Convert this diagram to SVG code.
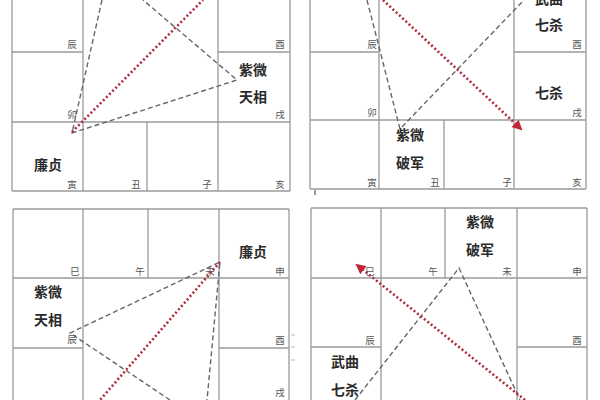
<svg xmlns="http://www.w3.org/2000/svg" width="600" height="400" viewBox="0 0 600 400">
<defs>
<style>
.g{stroke:#9a9a9a;stroke-width:1.3;fill:none}
.b{font-family:"Noto Sans CJK SC","Noto Sans CJK JP",sans-serif;font-size:9.5px;fill:#555;text-anchor:middle}
.s{font-family:"Noto Sans CJK SC","Noto Sans CJK JP",sans-serif;font-size:14px;font-weight:bold;fill:#2a2a2a;text-anchor:middle}
.d{stroke:#666;stroke-width:1.4;stroke-dasharray:5 3;fill:none}
.r{stroke:#b02c3c;stroke-width:2.6;stroke-dasharray:2 2.4;fill:none}
</style>
<marker id="ah" viewBox="0 0 10 10" refX="8" refY="5" markerWidth="4" markerHeight="4" orient="auto" markerUnits="strokeWidth">
<path d="M0,0 L10,5 L0,10 z" fill="#c0283a"/>
</marker>
</defs>
<rect width="600" height="400" fill="#fff"/>

<g id="panel1">
<path class="g" d="M12,0V191M83,0V191M218,0V191M290,0V191M147,122V191M12,52H83M218,52H290M12,122H290M12,191H290"/>
<text class="b" x="72" y="48">辰</text><text class="b" x="280" y="48">酉</text>
<text class="b" x="72" y="118">卯</text><text class="b" x="280" y="118">戌</text>
<text class="b" x="72" y="188">寅</text><text class="b" x="136" y="188">丑</text><text class="b" x="207" y="188">子</text><text class="b" x="280" y="188">亥</text>
<text class="s" x="253" y="75">紫微</text><text class="s" x="253" y="102">天相</text>
<text class="s" x="48" y="170">廉贞</text>
</g>

<g id="panel2">
<path class="g" d="M310,0V189M379,0V189M514,0V189M586,0V189M444,120V189M310,52H379M514,52H586M310,120H586M310,189H586"/>
<path d="M315,190V195" stroke="#555" stroke-width="1.2"/>
<text class="b" x="372" y="48">辰</text><text class="b" x="577" y="48">酉</text>
<text class="b" x="372" y="116">卯</text><text class="b" x="577" y="116">戌</text>
<text class="b" x="372" y="186">寅</text><text class="b" x="435" y="186">丑</text><text class="b" x="507" y="186">子</text><text class="b" x="577" y="186">亥</text>
<text class="s" x="549" y="4">武曲</text><text class="s" x="549" y="30">七杀</text>
<text class="s" x="549" y="98">七杀</text>
<text class="s" x="410" y="140">紫微</text><text class="s" x="410" y="168">破军</text>
</g>

<g id="panel3">
<path class="g" d="M13,209V400M83,209V400M219,209V400M289,209V400M148,209V278M13,209H289M13,278H289M13,348H83M219,348H289"/>
<path d="M291,335H295M291,347H295M291,360H295" stroke="#bbb" stroke-width="1"/>
<text class="b" x="75" y="275">巳</text><text class="b" x="140" y="275">午</text><text class="b" x="210" y="275">未</text><text class="b" x="280" y="275">申</text>
<text class="b" x="72" y="343">辰</text><text class="b" x="280" y="344">酉</text>
<text class="b" x="280" y="396">戌</text>
<text class="s" x="253" y="257">廉贞</text>
<text class="s" x="48" y="297">紫微</text><text class="s" x="48" y="325">天相</text>
</g>

<g id="panel4">
<path class="g" d="M311,208V400M381,208V400M517,208V400M587,208V400M445,208V278M311,208H587M311,278H587M311,347H381M517,347H587"/>
<text class="b" x="370" y="275">巳</text><text class="b" x="433" y="275">午</text><text class="b" x="507" y="275">未</text><text class="b" x="577" y="275">申</text>
<text class="b" x="370" y="344">辰</text><text class="b" x="577" y="344">酉</text>
<text class="s" x="480" y="227">紫微</text><text class="s" x="480" y="255">破军</text>
<text class="s" x="345" y="367">武曲</text><text class="s" x="345" y="395">七杀</text>
</g>

<g id="connectors">
<polyline class="d" points="102,0 72,133 237,80 143,0"/>
<line class="r" x1="72" y1="132" x2="203" y2="0"/>
<polyline class="d" points="367,0 400,129 524,0"/>
<line class="r" x1="383" y1="0" x2="521" y2="129" marker-end="url(#ah)"/>
<polyline class="d" points="170,400 70,333 220,262 207,400"/>
<line class="r" x1="220" y1="262" x2="100" y2="400"/>
<polyline class="d" points="355,400 459,268 520,400"/>
<line class="r" x1="525" y1="400" x2="357" y2="265" marker-end="url(#ah)"/>
</g>
</svg>
